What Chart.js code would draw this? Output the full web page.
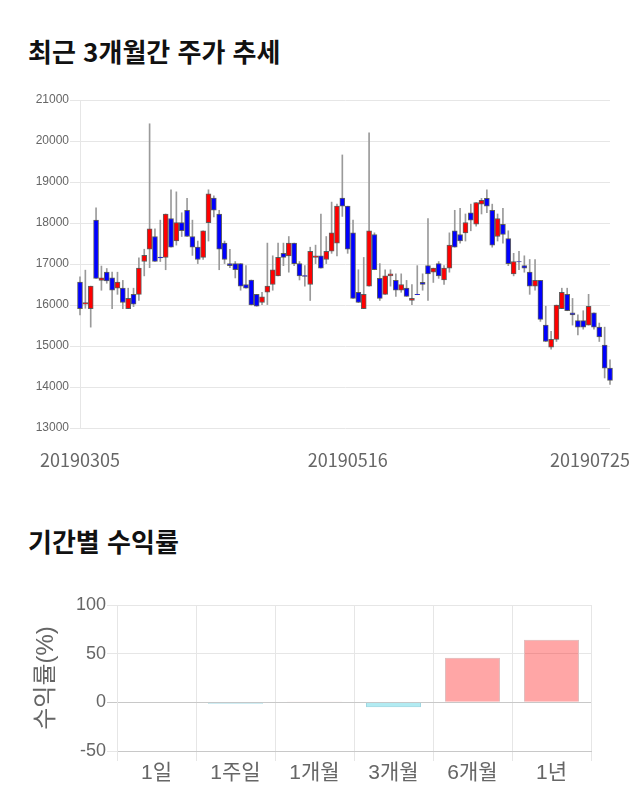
<!DOCTYPE html>
<html lang="ko">
<head>
<meta charset="utf-8">
<title>주가 추세</title>
<script src="https://cdn.jsdelivr.net/npm/chart.js@4/dist/chart.umd.min.js"></script>
<style>
  html, body { margin: 0; padding: 0; background: #fff; }
  body { width: 640px; height: 810px; position: relative; overflow: hidden; }
  .title {
    position: absolute; left: 28px; margin: 0;
    font-family: "Noto Sans CJK KR", sans-serif; font-weight: 700;
    font-size: 26px; line-height: 26px; color: #111;
  }
  #priceWrap { position: absolute; left: 0; top: 88px; width: 640px; height: 385px; }
  #returnWrap { position: absolute; left: 0; top: 590px; width: 640px; height: 200px; }
</style>
</head>
<body>
<h2 class="title" style="top:38px">최근 3개월간 주가 추세</h2>
<div id="priceWrap"><canvas id="priceChart"></canvas></div>

<h2 class="title" style="top:528px">기간별 수익률</h2>
<div id="returnWrap"><canvas id="returnChart"></canvas></div>

<script>
// Trading days (20190305 ~ 20190725)
const dates = [
  '20190305','20190306','20190307','20190308','20190311','20190312','20190313','20190314','20190315','20190318',
  '20190319','20190320','20190321','20190322','20190325','20190326','20190327','20190328','20190329','20190401',
  '20190402','20190403','20190404','20190405','20190408','20190409','20190410','20190411','20190412','20190415',
  '20190416','20190417','20190418','20190419','20190422','20190423','20190424','20190425','20190426','20190429',
  '20190430','20190502','20190503','20190507','20190508','20190509','20190510','20190513','20190514','20190515',
  '20190516','20190517','20190520','20190521','20190522','20190523','20190524','20190527','20190528','20190529',
  '20190530','20190531','20190603','20190604','20190605','20190607','20190610','20190611','20190612','20190613',
  '20190614','20190617','20190618','20190619','20190620','20190621','20190624','20190625','20190626','20190627',
  '20190628','20190701','20190702','20190703','20190704','20190705','20190708','20190709','20190710','20190711',
  '20190712','20190715','20190716','20190717','20190718','20190719','20190722','20190723','20190724','20190725'
];
const shownDates = ['20190305', '20190516', '20190725'];

const opens = [
  16560,16020,15910,18070,16600,16800,16660,16410,16410,15910,
  16260,16260,17060,17360,17670,17170,17160,18110,17560,18010,
  18310,17670,17410,17160,18010,18610,18220,17510,17010,17010,
  17010,16500,16610,16260,16060,16310,16500,16710,17260,17200,
  17510,17010,16720,16500,17160,17200,17110,17310,17510,18610,
  18410,17760,16310,15910,16460,17720,16650,16260,16710,16600,
  16360,16410,16110,16260,16550,16960,16800,17010,16610,16900,
  17810,17720,17760,18250,17970,18460,18600,18310,17670,17970,
  17620,16760,17060,16960,16800,16460,16600,15510,14970,15160,
  15910,16260,15810,15620,15620,15510,15810,15460,15020,14460
];
const highs = [
  16690,16850,16460,18370,16950,16890,16800,16800,16600,16410,
  16410,17150,17360,20420,17860,18070,18220,18810,18760,18250,
  18600,18070,17560,17810,18810,18660,18310,17560,17360,17060,
  17010,16960,16610,16260,16310,17510,17200,17510,17510,17670,
  17510,17060,16960,17410,17460,18220,17670,18510,18460,19660,
  18410,18070,16860,17160,20200,17760,17010,16860,16860,16760,
  16760,16600,16500,16960,16760,18110,16900,17060,16960,17760,
  18310,18360,18220,18460,18500,18600,18810,18460,18220,18360,
  17810,17260,17310,17200,17110,17110,16600,15970,15360,16000,
  16410,16410,16160,15760,15860,16260,15810,15560,15460,14660
];
const lows = [
  15760,15920,15460,16650,16360,16530,15910,16260,15910,15910,
  15960,16110,16710,16910,17060,17060,16860,17410,17460,17670,
  17670,17210,17010,17110,17560,18150,16860,17010,16910,16660,
  16360,16410,16000,15970,16010,16010,16360,16710,16960,16800,
  16960,16610,16460,16110,17010,16900,17010,17260,17200,18160,
  17260,16160,16060,15910,16460,16860,16110,16260,16460,16210,
  16310,16210,16010,16250,16360,16110,16550,16650,16500,16800,
  17410,17510,17560,17810,17920,18220,18250,17410,17560,17510,
  16960,16710,16860,16800,16260,16360,15600,15110,14920,15110,
  15910,15860,15510,15270,15410,15510,15410,15110,14220,14060
];
const closes = [
  15910,16060,16460,16650,16660,16590,16360,16560,16060,16160,
  16020,16900,17210,17860,17060,17150,18220,17410,18010,17810,
  17670,17410,17110,17810,18710,18310,17360,17110,16960,16860,
  16460,16410,16000,15970,16200,16460,16860,17160,17160,17510,
  17010,16710,16700,17310,17200,16900,17310,17760,18410,18410,
  17360,16160,16060,16260,17810,16860,16160,16710,16760,16360,
  16500,16210,16160,16250,16500,16760,16900,16710,16900,17460,
  17410,17560,18010,18070,18500,18550,18410,17460,18110,17720,
  17010,17060,17050,16900,16460,16600,15650,15110,15160,16000,
  16310,15860,15760,15460,15460,15970,15460,15220,14460,14160
];
const priceTicks = [13000, 14000, 15000, 16000, 17000, 18000, 19000, 20000, 21000];

// Period returns (%)
const periods = ['1일', '1주일', '1개월', '3개월', '6개월', '1년'];
const returns = [0, -1.5, 0.3, -5.1, 45.9, 64.4];
const returnTicks = [-50, 0, 50, 100];

const UP = '#ff0000';
const DOWN = '#0000ff';

// candle date labels under the axis, kept inside the canvas
const dateLabels = {
  id: 'dateLabels',
  afterDraw(chart) {
    const xs = chart.scales.x;
    const ctx = chart.ctx;
    ctx.save();
    ctx.font = '18px "Noto Sans CJK KR", sans-serif';
    ctx.fillStyle = '#666';
    ctx.textAlign = 'center';
    ctx.textBaseline = 'middle';
    shownDates.forEach(d => {
      const w = ctx.measureText(d).width;
      let px = xs.getPixelForValue(dates.indexOf(d));
      px = Math.min(px, chart.width - 10 - w / 2);
      ctx.fillText(d, px, xs.top + 32);
    });
    ctx.restore();
  }
};

new Chart(document.getElementById('priceChart'), {
  type: 'bar',
  data: {
    labels: dates,
    datasets: [
      {
        label: 'body',
        data: dates.map((d, i) => [opens[i], closes[i]]),
        backgroundColor: closes.map((c, i) => c >= opens[i] ? UP : DOWN),
        borderColor: 'rgba(70,70,70,0.85)',
        borderWidth: 1,
        borderSkipped: false,
        barThickness: 5,
        grouped: false,
        order: 1,
        clip: false
      },
      {
        label: 'wick',
        data: dates.map((d, i) => [lows[i], highs[i]]),
        backgroundColor: '#9a9a9a',
        borderWidth: 0,
        barThickness: 1,
        grouped: false,
        order: 2,
        clip: false
      }
    ]
  },
  options: {
    responsive: true,
    maintainAspectRatio: false,
    animation: false,
    layout: { padding: { left: 30, right: 30, top: 12, bottom: 0 } },
    plugins: { legend: { display: false }, tooltip: { enabled: false } },
    scales: {
      x: {
        offset: false,
        grid: { display: false, drawTicks: false },
        border: { display: false },
        ticks: { display: false },
        afterFit: (axis) => { axis.height = 45; }
      },
      y: {
        min: 13000,
        max: 21000,
        afterBuildTicks: (axis) => { axis.ticks = priceTicks.map(v => ({ value: v })); },
        grid: { color: '#e6e6e6', tickLength: 10 },
        border: { color: '#e6e6e6' },
        ticks: {
          color: '#666',
          padding: 1,
          font: { family: '"Liberation Sans", Arial, sans-serif', size: 12 },
          callback: (v) => String(v)
        },
        afterFit: (axis) => { axis.width = 50; }
      }
    }
  },
  plugins: [dateLabels]
});

new Chart(document.getElementById('returnChart'), {
  type: 'bar',
  data: {
    labels: periods,
    datasets: [{
      data: returns,
      backgroundColor: returns.map(v => v >= 0 ? 'rgba(255,0,0,0.35)' : 'rgba(0,188,212,0.3)'),
      borderColor: returns.map(v => v >= 0 ? 'rgba(225,190,190,1)' : 'rgba(160,215,225,1)'),
      borderWidth: 1,
      categoryPercentage: 0.8,
      barPercentage: 0.87
    }]
  },
  options: {
    responsive: true,
    maintainAspectRatio: false,
    animation: false,
    layout: { padding: { left: 30, right: 49, top: 15, bottom: 0 } },
    plugins: { legend: { display: false }, tooltip: { enabled: false } },
    scales: {
      x: {
        grid: { color: '#e6e6e6', tickLength: 10 },
        border: { color: '#c8c8c8' },
        ticks: {
          color: '#666',
          padding: 0,
          font: { family: '"Liberation Sans", "Noto Sans CJK KR", sans-serif', size: 21 }
        },
        afterFit: (axis) => { axis.height = 39; }
      },
      y: {
        min: -50,
        max: 100,
        afterBuildTicks: (axis) => { axis.ticks = returnTicks.map(v => ({ value: v })); },
        grid: {
          color: (ctx) => ctx.tick && ctx.tick.value === 0 ? '#c8c8c8' : '#e6e6e6',
          tickLength: 10
        },
        border: { color: '#e6e6e6' },
        ticks: {
          color: '#666',
          padding: 1,
          font: { family: '"Liberation Sans", Arial, sans-serif', size: 18 }
        },
        title: {
          display: true,
          text: '수익률(%)',
          color: '#666',
          padding: { top: 2, bottom: 0 },
          font: { family: '"Liberation Sans", "Noto Sans CJK KR", sans-serif', size: 24 }
        },
        afterFit: (axis) => { axis.width = 87; }
      }
    }
  }
});
</script>
</body>
</html>
